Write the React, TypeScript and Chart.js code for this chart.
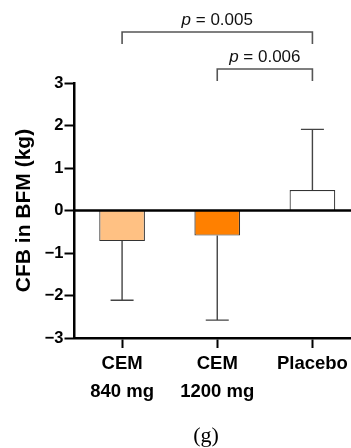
import React, { useEffect, useRef } from 'react';
import { Chart, registerables } from 'chart.js';
Chart.register(...registerables);

const categories: (string | string[])[] = [['CEM', '840 mg'], ['CEM', '1200 mg'], 'Placebo'];
const means = [-0.72, -0.59, 0.48];
const sds = [1.39, 1.99, 1.43];
const barColors = ['#FFC183', '#FF8000', '#FFFFFF'];
const yMin = -3;
const yMax = 3;
const bracketFrom = [0, 1];
const bracketTo = [2, 2];
const pValues = ['0.005', '0.006'];
const yTitle = 'CFB in BFM (kg)';
const caption = '(g)';

const SANS = '"Liberation Sans", Arial, sans-serif';

const overlayPlugin = {
  id: 'overlay',
  afterDatasetsDraw(chart: any) {
    const { ctx, chartArea, scales } = chart;
    const x = scales.x;
    const y = scales.y;
    ctx.save();
    // error bars
    ctx.strokeStyle = '#444';
    ctx.lineWidth = 1.4;
    means.forEach((m, i) => {
      const cx = x.getPixelForValue(i);
      const dir = m < 0 ? -1 : 1;
      const y0 = y.getPixelForValue(m);
      const y1 = y.getPixelForValue(m + dir * sds[i]);
      ctx.beginPath();
      ctx.moveTo(cx, y0);
      ctx.lineTo(cx, y1);
      ctx.moveTo(cx - 11.5, y1);
      ctx.lineTo(cx + 11.5, y1);
      ctx.stroke();
    });
    // zero line
    const zy = y.getPixelForValue(0);
    ctx.strokeStyle = '#000';
    ctx.lineWidth = 2.5;
    ctx.beginPath();
    ctx.moveTo(chartArea.left, zy);
    ctx.lineTo(chartArea.right, zy);
    ctx.stroke();
    // brackets
    pValues.forEach((p, i) => {
      const x0 = x.getPixelForValue(bracketFrom[i]);
      const x1 = x.getPixelForValue(bracketTo[i]);
      const lineY = chartArea.top - 51 + i * 37;
      ctx.strokeStyle = '#555';
      ctx.lineWidth = 1.6;
      ctx.beginPath();
      ctx.moveTo(x0, lineY + 12);
      ctx.lineTo(x0, lineY);
      ctx.lineTo(x1, lineY);
      ctx.lineTo(x1, lineY + 12);
      ctx.stroke();
      const ty = lineY - 12;
      const rest = ' = ' + p;
      ctx.fillStyle = '#111';
      ctx.textBaseline = 'middle';
      ctx.textAlign = 'left';
      ctx.font = 'italic 17px ' + SANS;
      const w1 = ctx.measureText('p').width;
      ctx.font = '17px ' + SANS;
      const w2 = ctx.measureText(rest).width;
      const start = (x0 + x1) / 2 - (w1 + w2) / 2;
      ctx.font = 'italic 17px ' + SANS;
      ctx.fillText('p', start, ty);
      ctx.font = '17px ' + SANS;
      ctx.fillText(rest, start + w1, ty);
    });
    ctx.restore();
  },
};

export default function App() {
  const ref = useRef<HTMLCanvasElement>(null);
  useEffect(() => {
    const canvas = ref.current!;
    const chart = new Chart(canvas, {
      type: 'bar',
      data: {
        labels: categories as any,
        datasets: [
          {
            data: means,
            backgroundColor: barColors,
            borderColor: '#333',
            borderWidth: 1.2,
            barPercentage: 0.48,
            categoryPercentage: 1,
          },
        ],
      },
      options: {
        animation: false,
        responsive: false,
        devicePixelRatio: 1,
        layout: { padding: { top: 83, left: 0, right: 0, bottom: 0 } },
        plugins: { legend: { display: false }, tooltip: { enabled: false } },
        scales: {
          x: {
            afterFit: (s: any) => {
              s.height = 110;
            },
            grid: {
              offset: false,
              drawOnChartArea: false,
              tickLength: 10,
              tickWidth: 2,
              tickColor: '#000',
            },
            border: { color: '#000', width: 2.5 },
            ticks: {
              color: '#000',
              padding: 2,
              maxRotation: 0,
              autoSkip: false,
              font: { family: SANS, size: 18.5, weight: 'bold', lineHeight: 1.5 },
            },
          },
          y: {
            min: yMin,
            max: yMax,
            afterFit: (s: any) => {
              s.width = 74.5;
            },
            grid: {
              drawOnChartArea: false,
              tickLength: 10,
              tickWidth: 2,
              tickColor: '#000',
            },
            border: { color: '#000', width: 2.5 },
            ticks: {
              stepSize: 1,
              color: '#000',
              padding: 1,
              font: { family: SANS, size: 16.5, weight: 'bold' },
              callback: (v: any) => String(v).replace('-', '\u2212'),
            },
            title: {
              display: true,
              text: yTitle,
              color: '#000',
              padding: { top: 12, bottom: 0 },
              font: { family: SANS, size: 21, weight: 'bold' },
            },
          },
        },
      },
      plugins: [overlayPlugin],
    });
    return () => chart.destroy();
  }, []);
  return (
    <div
      style={{
        position: 'fixed',
        left: 0,
        top: 0,
        width: 351,
        height: 448,
        overflow: 'hidden',
        background: '#fff',
      }}
    >
      <canvas ref={ref} width={360} height={448} style={{ display: 'block' }} />
      <div
        style={{
          position: 'absolute',
          left: 0,
          width: 412,
          top: 422,
          textAlign: 'center',
          fontFamily: '"Liberation Serif", "DejaVu Serif", serif',
          fontSize: 22,
          lineHeight: '26px',
          color: '#000',
        }}
      >
        {caption}
      </div>
    </div>
  );
}
